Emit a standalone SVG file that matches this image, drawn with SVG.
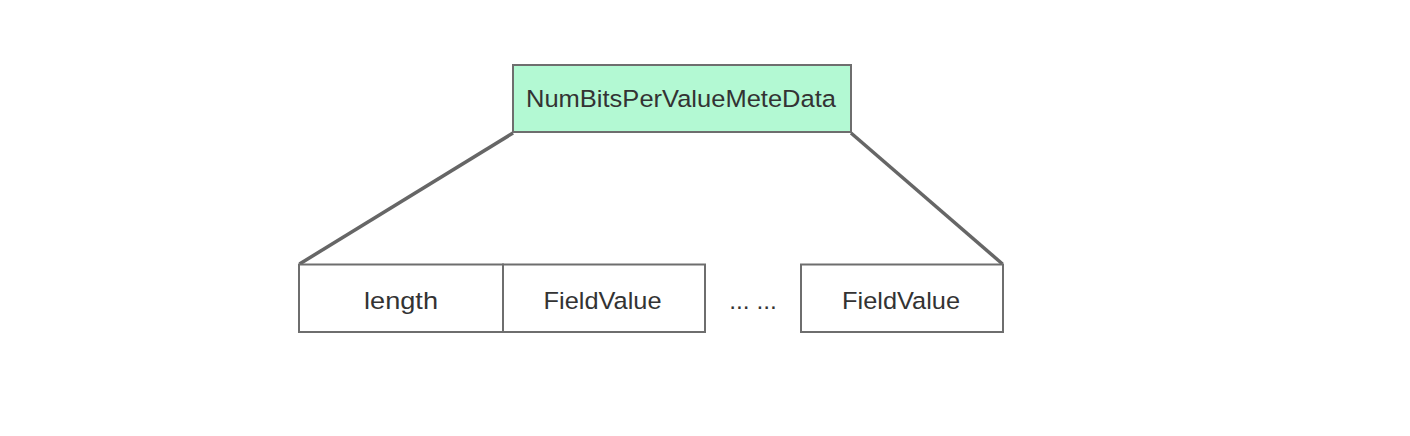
<svg xmlns="http://www.w3.org/2000/svg" width="1410" height="436" viewBox="0 0 1410 436">
<style>
.box{fill:#ffffff;stroke:#6e6e6e;stroke-width:2}
.top{fill:#b3f9d3;stroke:#6e6e6e;stroke-width:2}
.lbl{font-family:"Liberation Sans",Arial,sans-serif;font-size:24.5px;fill:#333333;text-anchor:middle}
.conn{stroke:#666666;stroke-width:3.5;fill:none}
</style>
<rect width="1410" height="436" fill="#ffffff"/>
<g id="connectors">
<line class="conn" x1="513" y1="133" x2="299.5" y2="264"/>
<line class="conn" x1="851" y1="133" x2="1002.5" y2="264"/>
</g>
<g id="meta">
<rect class="top" x="513" y="65" width="338" height="67"/>
<text class="lbl" x="681" y="106.5" textLength="310" lengthAdjust="spacingAndGlyphs">NumBitsPerValueMeteData</text>
</g>
<g id="length">
<rect class="box" x="299" y="264.5" width="204" height="67.5"/>
<text class="lbl" x="401" y="308.5" textLength="74" lengthAdjust="spacingAndGlyphs">length</text>
</g>
<g id="fieldvalue1">
<rect class="box" x="503" y="264.5" width="202" height="67.5"/>
<text class="lbl" x="602.5" y="308.5" textLength="118" lengthAdjust="spacingAndGlyphs">FieldValue</text>
</g>
<g id="ellipsis">
<text class="lbl" x="753" y="308.5">... ...</text>
</g>
<g id="fieldvalue2">
<rect class="box" x="801" y="264.5" width="202" height="67.5"/>
<text class="lbl" x="901" y="308.5" textLength="118" lengthAdjust="spacingAndGlyphs">FieldValue</text>
</g>
</svg>
